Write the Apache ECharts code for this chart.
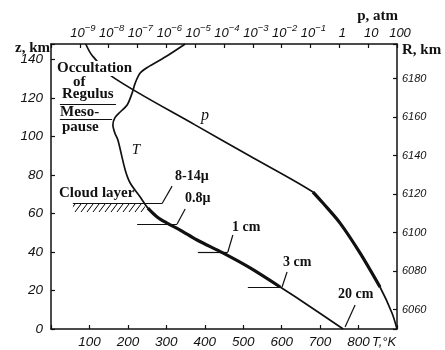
<!DOCTYPE html>
<html><head><meta charset="utf-8">
<script src="https://cdn.jsdelivr.net/npm/echarts@6/dist/echarts.min.js"></script>
<style>html,body{margin:0;padding:0;background:#fff}#c{width:445px;height:350px}</style>
</head><body><div id="c"></div>
<script>
// ---- Temperature profile T(z) ----
const tempK = [349, 297, 252, 232, 219, 211, 198, 180, 166, 161, 166, 174, 193, 206, 232, 252, 276, 302, 336, 380, 447, 518, 596, 648, 760];
const tempZ = [148, 141.2, 136.0, 132.9, 127.7, 122.5, 116.3, 112.7, 109.6, 105.9, 101.8, 98.1, 82.6, 75.8, 68.5, 62.8, 58.2, 55.0, 51.4, 46.2, 39.5, 31.7, 21.8, 15.1, 0];
// ---- Pressure profile p(z), atm ----
const presAtm = [1.6e-9, 2.6e-9, 1.4e-8, 9.9e-6, 7.9e-4, 0.122, 0.27, 1.06, 5.2, 25.7, 67, 100];
const presZ = [148, 142.3, 130.8, 106.0, 89.8, 71.1, 65.4, 55.0, 39.5, 21.8, 8.3, 0];
// ---- Heavy-drawn parts of the curves (altitude ranges, km) ----
const tempBoldZ = [21, 66];
const presBoldZ = [21, 76];
// ---- Tick labels ----
const pTickExponents = [-9, -8, -7, -6, -5, -4, -3, -2, -1, 0, 1, 2];
const tTickLabels = ['100', '200', '300', '400', '500', '600', '700', '800'];
const zTickLabels = ['0', '20', '40', '60', '80', '100', '120', '140'];
const rTickLabels = ['6060', '6080', '6100', '6120', '6140', '6160', '6180'];
// ---- Level markers (z, km) with their T extent ----
const levelZ  = [116.5, 109.0, 65.2, 54.5, 40.0, 21.8];
const levelT0 = [23, 23, 57, 224, 382, 512];
const levelT1 = [169, 159, 289, 328, 460, 601];
// ---- Leader lines to labels ----
const leadT0 = [289, 328, 460, 601, 765];
const leadZ0 = [65.2, 54.5, 40.0, 21.8, 1.0];
const leadT1 = [315, 349, 473, 614, 791];
const leadZ1 = [74.2, 62.3, 48.8, 29.6, 12.5];
// ---- Cloud layer hatch (T range, z range) ----
const cloudT = [57, 244];
const cloudZ = [60.7, 64.9];

const R0 = 6050; // R = R0 + z
const zMax = 148;

function hatchPattern() {
  const c = document.createElement('canvas');
  c.width = 6; c.height = 8;
  const g = c.getContext('2d');
  g.strokeStyle = '#000'; g.lineWidth = 1;
  g.beginPath();
  for (const dx of [-6, 0, 6]) { g.moveTo(dx, 8); g.lineTo(dx + 6, 0); }
  g.stroke();
  return c;
}

const tData = tempK.map((t, i) => [t, tempZ[i]]);
const tBold = tData.filter(d => d[1] >= tempBoldZ[0] && d[1] <= tempBoldZ[1]);
const pData = presAtm.map((p, i) => [Math.log10(p), presZ[i]]);
const pBold = pData.filter(d => d[1] >= presBoldZ[0] && d[1] <= presBoldZ[1]);

const lineMarks = [];
levelZ.forEach((z, i) => lineMarks.push([{coord: [levelT0[i], z]}, {coord: [levelT1[i], z]}]));
leadT0.forEach((t, i) => lineMarks.push([{coord: [t, leadZ0[i]]}, {coord: [leadT1[i], leadZ1[i]]}]));

const tickFont = '"Liberation Sans", Arial, sans-serif';
const serif = '"Liberation Serif", "Times New Roman", serif';
const axisLine = {show: true, onZero: false, lineStyle: {color: '#111', width: 1.5}};
const axisTick = {show: true, inside: true, length: 4, lineStyle: {color: '#111', width: 1.2}};

function pLabel(v) {
  const e = Math.round(v);
  if (Math.abs(v - e) > 1e-6 || pTickExponents.indexOf(e) < 0) return '';
  if (e === 0) return '{b|1}';
  if (e === 1) return '{b|10}';
  if (e === 2) return '{b|100}';
  return '{b|10}{s|' + String(e).replace('-', '−') + '}';
}

const chart = echarts.init(document.getElementById('c'), null, {renderer: 'canvas'});
const txt = (text, x, y, font, align, extra) => ({
  type: 'text', x: x, y: y, z: 100,
  style: Object.assign({text: text, font: font, fill: '#111', align: align || 'left', verticalAlign: 'middle'}, extra || {})
});
const bold15 = 'bold 15px ' + serif;
const bold14 = 'bold 14px ' + serif;

chart.setOption({
  animation: false,
  backgroundColor: '#fff',
  grid: {left: 51, right: 48, top: 44, bottom: 21, containLabel: false},
  xAxis: [
    {type: 'value', position: 'bottom', min: 0, max: 900, interval: 100,
     axisLine: axisLine, axisTick: axisTick, splitLine: {show: false},
     axisLabel: {margin: 6, color: '#111', fontSize: 13.5, fontStyle: 'italic', fontFamily: tickFont,
       formatter: v => { const s = String(Math.round(v)); return tTickLabels.indexOf(s) >= 0 ? s : ''; }}},
    {type: 'value', position: 'top', min: -10, max: 2, interval: 1,
     axisLine: axisLine, axisTick: axisTick, splitLine: {show: false},
     axisLabel: {margin: 4, color: '#111', formatter: pLabel, padding: [0, 0, 0, 6],
       rich: {b: {fontSize: 13, fontStyle: 'italic', fontFamily: tickFont, color: '#111', lineHeight: 17, verticalAlign: 'bottom'},
              s: {fontSize: 9.5, fontStyle: 'italic', fontFamily: tickFont, color: '#111', lineHeight: 17, verticalAlign: 'top'}}}}
  ],
  yAxis: [
    {type: 'value', position: 'left', min: 0, max: zMax, interval: 20,
     axisLine: axisLine, axisTick: axisTick, splitLine: {show: false},
     axisLabel: {margin: 8, color: '#111', fontSize: 13.5, fontStyle: 'italic', fontFamily: tickFont,
       formatter: v => { const s = String(Math.round(v)); return (Math.abs(v - Math.round(v)) < 1e-6 && zTickLabels.indexOf(s) >= 0) ? s : ''; }}},
    {type: 'value', position: 'right', min: R0, max: R0 + zMax, splitNumber: 7,
     axisLine: axisLine, axisTick: axisTick, splitLine: {show: false},
     axisLabel: {margin: 5, color: '#111', fontSize: 11, fontStyle: 'italic', fontFamily: tickFont,
       formatter: v => { const s = String(Math.round(v)); return rTickLabels.indexOf(s) >= 0 ? s : ''; }}}
  ],
  series: [
    {type: 'line', name: 'T', xAxisIndex: 0, yAxisIndex: 0, data: tData, smooth: 0.3, symbol: 'none',
     lineStyle: {color: '#111', width: 1.7}, z: 3,
     markLine: {silent: true, symbol: ['none', 'none'], label: {show: false},
       lineStyle: {color: '#111', width: 1.2, type: 'solid'}, emphasis: {disabled: true}, data: lineMarks},
     markArea: {silent: true, itemStyle: {color: {image: hatchPattern(), repeat: 'repeat'}, borderWidth: 0},
       data: [[{coord: [cloudT[0], cloudZ[1]]}, {coord: [cloudT[1], cloudZ[0]]}]]}},
    {type: 'line', name: 'T-bold', xAxisIndex: 0, yAxisIndex: 0, data: tBold, smooth: 0.3, symbol: 'none',
     lineStyle: {color: '#111', width: 3.2}, z: 4},
    {type: 'line', name: 'p', xAxisIndex: 1, yAxisIndex: 0, data: pData, smooth: 0.3, symbol: 'none',
     lineStyle: {color: '#111', width: 1.7}, z: 3},
    {type: 'line', name: 'p-bold', xAxisIndex: 1, yAxisIndex: 0, data: pBold, smooth: 0.3, symbol: 'none',
     lineStyle: {color: '#111', width: 3.2}, z: 4}
  ],
  graphic: {elements: [
    txt('Occultation', 57, 68.5, bold15, 'left', {backgroundColor: '#fff'}),
    txt('of', 73, 82, bold15, 'left', {backgroundColor: '#fff'}),
    txt('Regulus', 62, 94, bold15),
    txt('Meso-', 60, 112, bold15),
    txt('pause', 62, 127, bold15),
    txt('Cloud layer', 59, 193, bold15),
    txt('8-14μ', 175, 176, bold14),
    txt('0.8μ', 185, 198, bold14),
    txt('1 cm', 232, 227, bold14),
    txt('3 cm', 283, 262, bold14),
    txt('20 cm', 338, 294, bold14),
    txt('T', 136, 150, 'italic 15px ' + serif, 'center'),
    txt('p', 205, 116, 'italic 16px ' + serif, 'center'),
    txt('z, km', 50, 48, bold15, 'right'),
    txt('R, km', 402, 50, bold15, 'left'),
    txt('p, atm', 398, 16, bold15, 'right'),
    txt('T,°K', 372, 342, 'italic 13px ' + tickFont, 'left')
  ]}
});
</script>
</body></html>
